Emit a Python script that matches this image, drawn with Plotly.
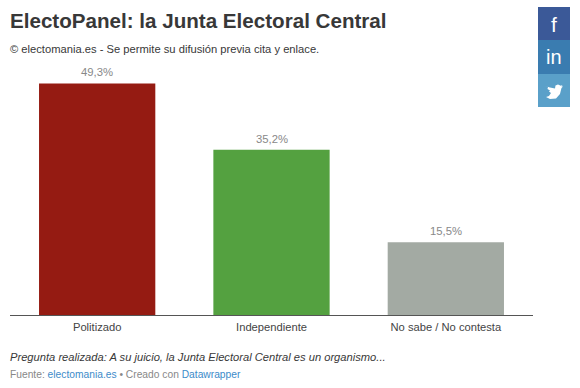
import plotly.graph_objects as go

W, H = 580, 388
L, R, T, B = 10, 533, 60, 315.5
categories = ["Politizado", "Independiente", "No sabe / No contesta"]
values = [49.3, 35.2, 15.5]
value_labels = ["49,3%", "35,2%", "15,5%"]
bar_colors = ["#951b12", "#54a140", "#a3aaa3"]
title = "ElectoPanel: la Junta Electoral Central"
subtitle = "© electomania.es - Se permite su difusión previa cita y enlace."
question = "Pregunta realizada: A su juicio, la Junta Electoral Central es un organismo..."
FONT = "Liberation Sans, Arial, sans-serif"


def px(x):
    return (x - L) / (R - L)


def py(y):
    return (B - y) / (B - T)


fig = go.Figure(
    go.Bar(
        x=categories,
        y=values,
        width=0.667,
        marker=dict(color=bar_colors, line=dict(width=0)),
        hoverinfo="skip",
    )
)

for c, v, t in zip(categories, values, value_labels):
    fig.add_annotation(x=c, y=v, text=t, showarrow=False, yanchor="bottom", yshift=3,
                       font=dict(family=FONT, size=11.3, color="#888888"))


def note(x, y, text, size, color, **kw):
    fig.add_annotation(
        xref="paper", yref="paper", x=px(x), y=py(y), text=text, showarrow=False,
        xanchor=kw.pop("xanchor", "left"), yanchor="middle", align="left", borderpad=0,
        font=dict(family=FONT, size=size, color=color), **kw,
    )


note(9.3, 20, f"<b>{title}</b>", 20.6, "#383838")
note(9.3, 49, subtitle, 11.2, "#383838")
note(9.3, 358, f"<i>{question}</i>", 11.17, "#383838")
note(
    9.3, 375.5,
    'Fuente: <span style="color:#3d8bc9">electomania.es</span> • Creado con '
    '<span style="color:#3d8bc9">Datawrapper</span>',
    10.25, "#888888",
)

buttons = [(7, 40, "#3b5998"), (40, 74, "#3a7cb0"), (74, 107, "#5aa0c9")]
for y0, y1, c in buttons:
    fig.add_shape(type="rect", xref="paper", yref="paper", x0=px(538), x1=px(570),
                  y0=py(y1), y1=py(y0), fillcolor=c, line=dict(width=0), layer="above")
note(554, 24, "f", 21, "#ffffff", xanchor="center")
note(554, 57, "in", 20, "#ffffff", xanchor="center")

bird = [(545, 86), (548, 87), (547.5, 89), (550, 90.5), (549, 91.5), (551, 93),
        (549, 96), (546, 97), (550, 99), (556, 98.5), (560, 94), (561.5, 88), (563, 86.5),
        (561.5, 86.6), (562.5, 85), (560.8, 85.7), (558, 84.5), (555.5, 85.5), (555, 88.5), (550, 87.5)]
path = "M " + " L ".join(f"{px(x):.4f},{py(y):.4f}" for x, y in bird) + " Z"
fig.add_shape(type="path", xref="paper", yref="paper", path=path, fillcolor="#ffffff",
              line=dict(width=0), layer="above")

fig.update_layout(
    width=W, height=H, autosize=False, showlegend=False,
    margin=dict(l=L, r=W - R, t=T, b=H - B, pad=0),
    paper_bgcolor="#ffffff", plot_bgcolor="#ffffff",
    bargap=0.333,
    xaxis=dict(type="category", range=[-0.5, 2.5], showgrid=False, showline=True, linecolor="#555555",
               linewidth=1, ticks="", ticklabelstandoff=2,
               tickfont=dict(family=FONT, size=11.2, color="#444444")),
    yaxis=dict(range=[0, 54.3], visible=False, fixedrange=True),
)

fig.write_html("out.html", config={"displayModeBar": False},
               post_script="document.body.style.margin='0';")
